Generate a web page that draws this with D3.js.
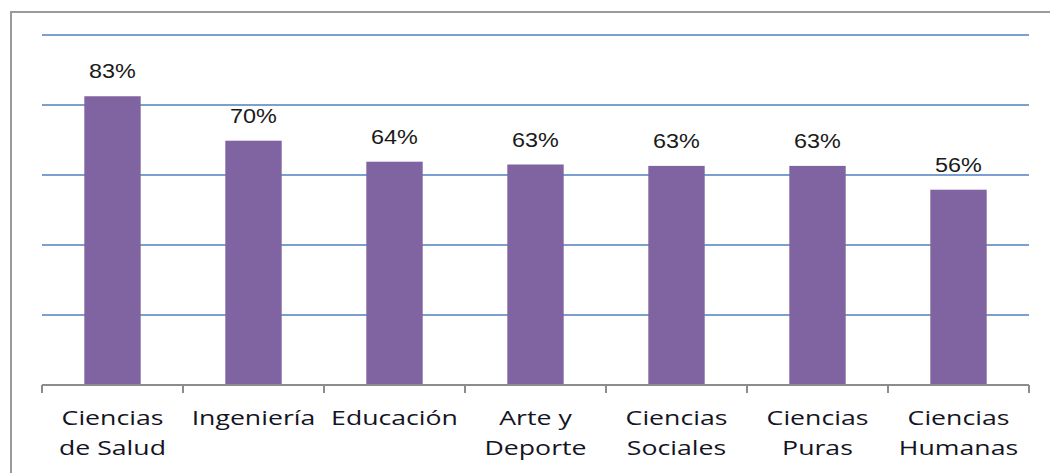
<!DOCTYPE html>
<html><head><meta charset="utf-8">
<script src="https://cdn.jsdelivr.net/npm/d3@7"></script>
<style>body{margin:0;background:#fff}svg{display:block}</style>
</head><body>
<svg id="c" width="1050" height="473"></svg>
<script>
const categories = [["Ciencias","de Salud"],["Ingeniería"],["Educación"],["Arte y","Deporte"],["Ciencias","Sociales"],["Ciencias","Puras"],["Ciencias","Humanas"]];
const values = [0.825, 0.698, 0.638, 0.630, 0.626, 0.626, 0.558];
const yTicks = [0, 0.2, 0.4, 0.6, 0.8, 1.0];

const svg = d3.select("#c");
const W = 1050, H = 473;
const m = {left: 42, right: 21, top: 35, bottom: 88};

// outer frame
svg.append("rect").attr("x", 11).attr("y", 12).attr("width", 1060).attr("height", 500)
  .attr("fill", "none").attr("stroke", "#9a9a9a").attr("stroke-width", 2);

const x = d3.scaleBand().domain(d3.range(categories.length)).range([m.left, W - m.right]).paddingInner(0.6).paddingOuter(0.3);
const y = d3.scaleLinear().domain([0, 1]).range([H - m.bottom, m.top]);

// gridlines
svg.append("g").selectAll("line").data(yTicks.slice(1)).join("line")
  .attr("x1", m.left).attr("x2", W - m.right)
  .attr("y1", d => y(d)).attr("y2", d => y(d))
  .attr("stroke", "#4f81bd").attr("stroke-width", 1.5);

// bars
svg.append("g").selectAll("rect").data(values).join("rect")
  .attr("x", (d, i) => x(i)).attr("width", x.bandwidth())
  .attr("y", d => y(d)).attr("height", d => y(0) - y(d))
  .attr("fill", "#8064a2");

// x axis
const bounds = d3.range(categories.length + 1).map(i => m.left + i * (W - m.left - m.right) / categories.length);
const ax = svg.append("g");
ax.append("line").attr("x1", m.left).attr("x2", W - m.right).attr("y1", y(0)).attr("y2", y(0))
  .attr("stroke", "#8c8c8c").attr("stroke-width", 2);
ax.selectAll("line.t").data(bounds).join("line").attr("class", "t")
  .attr("x1", d => d).attr("x2", d => d).attr("y1", y(0)).attr("y2", y(0) + 8)
  .attr("stroke", "#8c8c8c").attr("stroke-width", 2);

// value labels
const fmt = d3.format(".0%");
svg.append("g").selectAll("text").data(values).join("text")
  .attr("transform", (d, i) => `translate(${x(i) + x.bandwidth() / 2},${y(d) - 18}) scale(1.2,1)`)
  .attr("text-anchor", "middle")
  .attr("font-family", "Liberation Sans, Arial, sans-serif").attr("font-size", 19.5)
  .attr("fill", "#1a1a1a").text(fmt);

// category labels
const cg = svg.append("g").selectAll("g").data(categories).join("g")
  .attr("transform", (d, i) => `translate(${x(i) + x.bandwidth() / 2},${y(0) + 40}) scale(1.3,1)`);
cg.selectAll("text").data(d => d).join("text")
  .attr("y", (d, j) => j * 30)
  .attr("text-anchor", "middle")
  .attr("font-family", "Open Sans, sans-serif").attr("font-size", 20.5).attr("font-weight", 500)
  .attr("fill", "#141424").text(d => d);
</script>
</body></html>
